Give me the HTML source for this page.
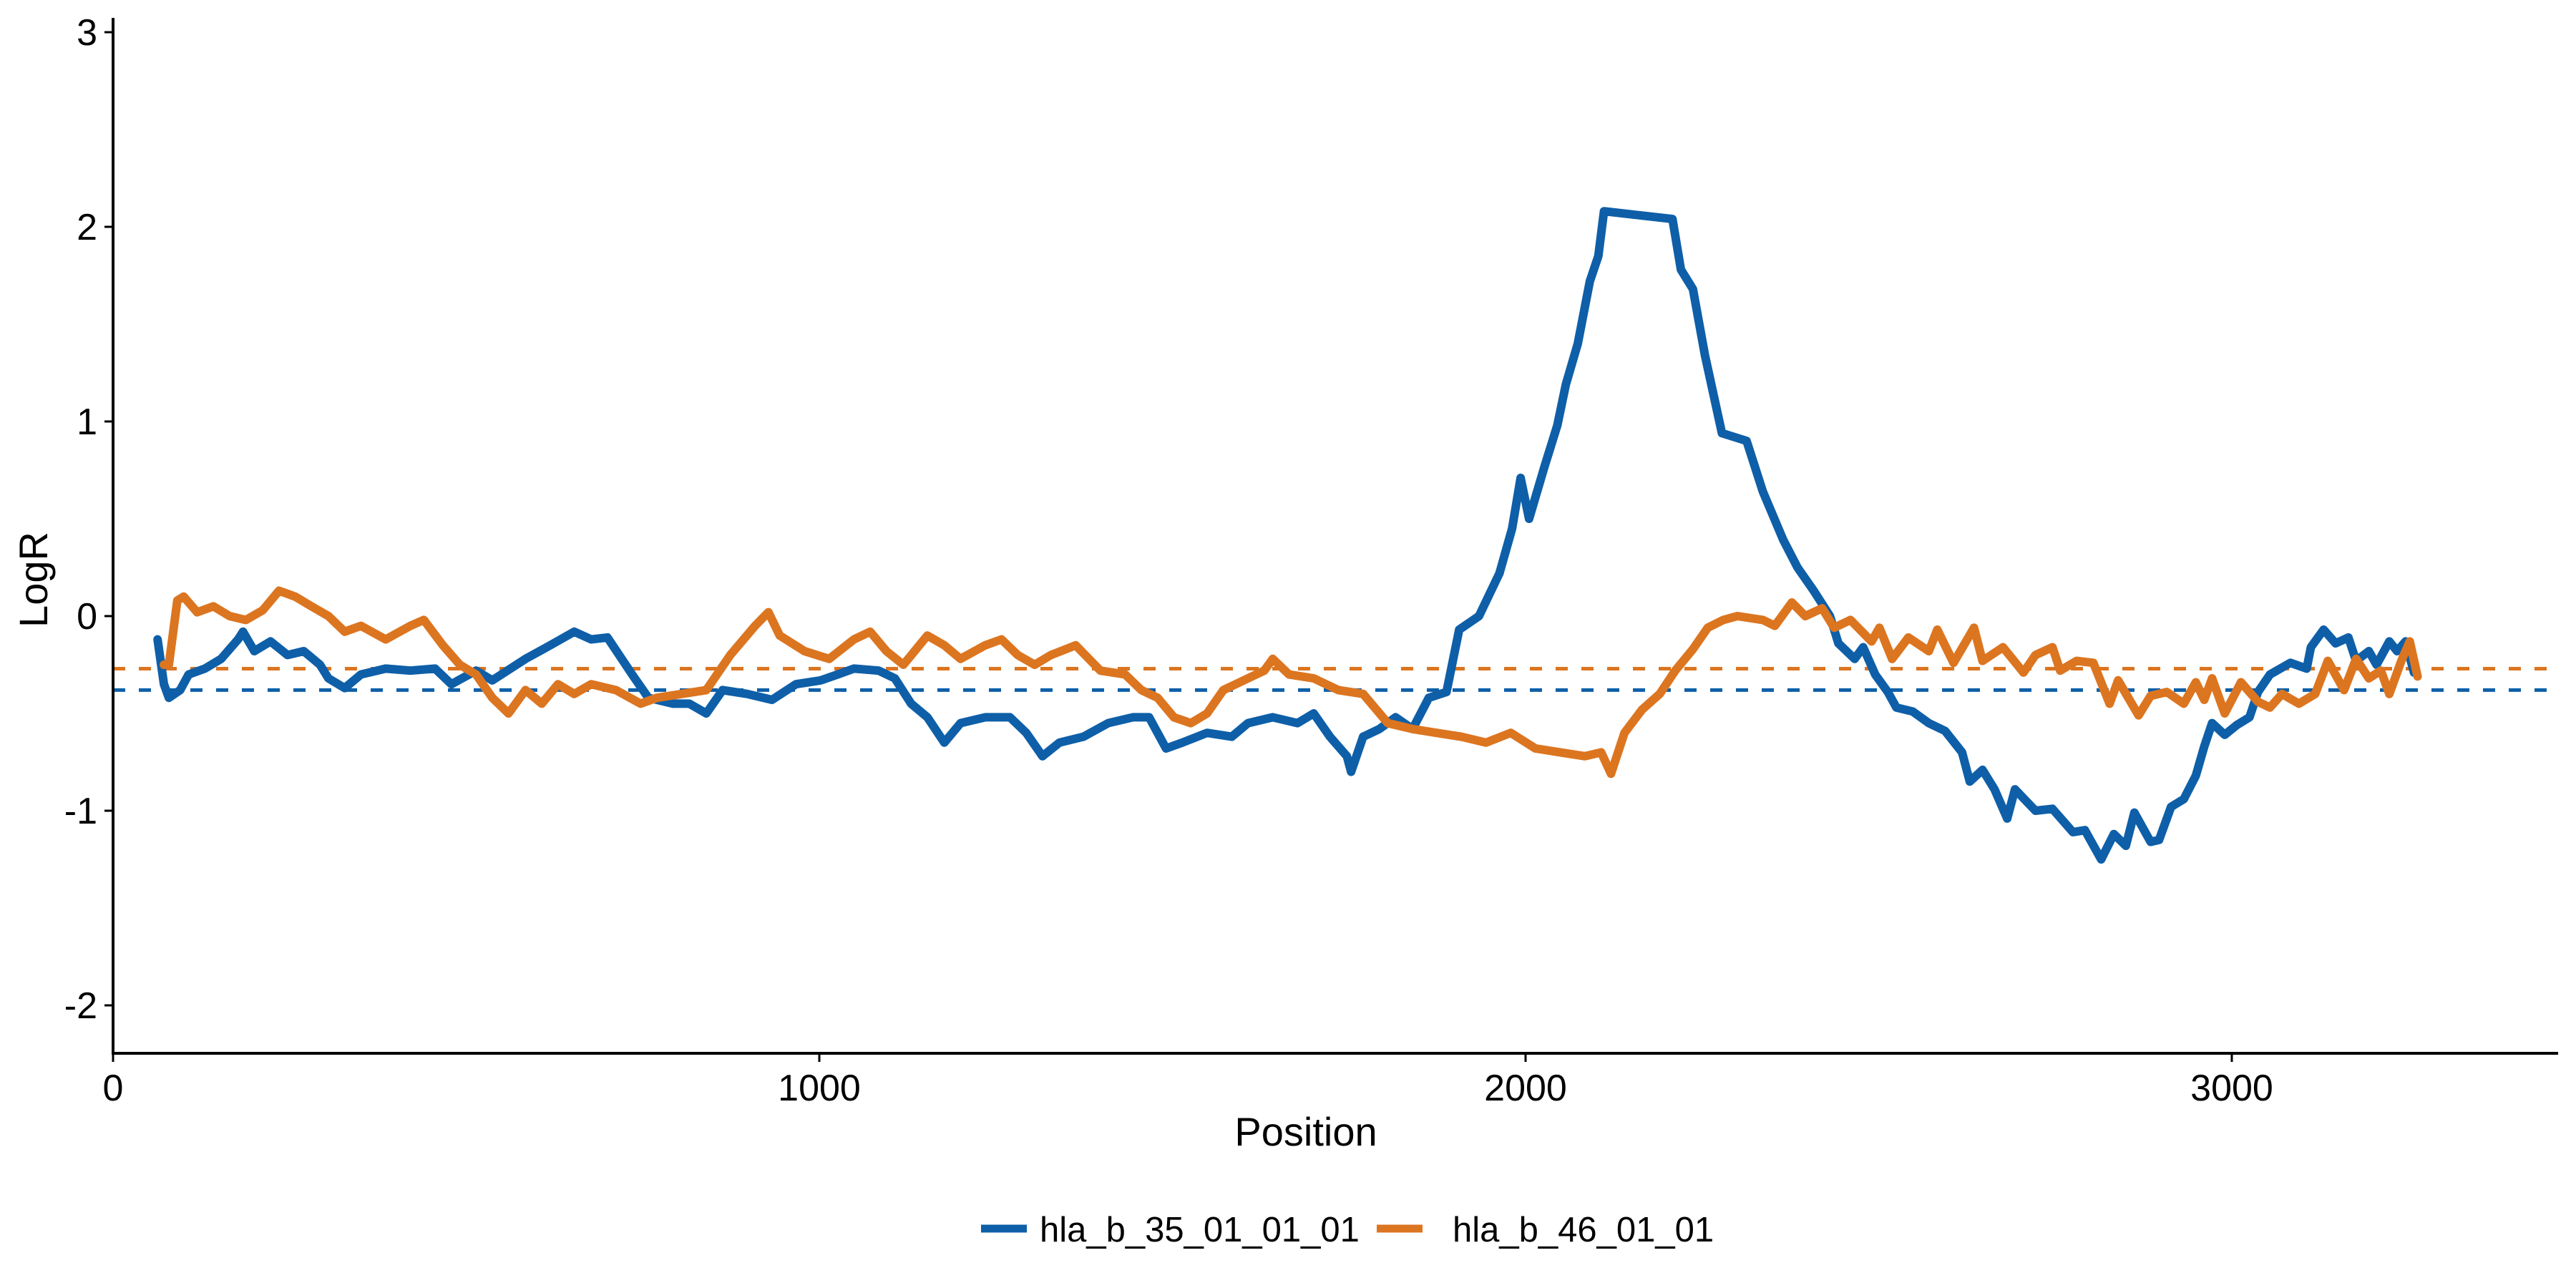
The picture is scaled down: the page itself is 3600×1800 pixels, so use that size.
<!DOCTYPE html>
<html><head><meta charset="utf-8"><style>
html,body{margin:0;padding:0;background:#fff;}
svg{display:block;font-family:"Liberation Sans",Arial,sans-serif;}
</style></head><body>
<svg id="chart" width="3600" height="1800" viewBox="0 0 3600 1800">
<g id="grid"></g>
<g id="series"></g>
<g id="axes"></g>
<text x="1825" y="1601" font-size="56" text-anchor="middle">Position</text>
<text transform="translate(66,810) rotate(-90)" font-size="56" text-anchor="middle">LogR</text>
<g>
<line x1="1371" y1="1717" x2="1435" y2="1717" stroke="#0e5fa8" stroke-width="11"/>
<text x="1453" y="1735" font-size="49">hla_b_35_01_01_01</text>
<line x1="1924" y1="1717" x2="1988" y2="1717" stroke="#dc7520" stroke-width="11"/>
<text x="2030" y="1735" font-size="49">hla_b_46_01_01</text>
</g>
</svg>
<script>
const blueX=[63,72,79,95,107,130,153,177,184,200,223,247,270,293,305,328,351,386,421,456,479,514,537,584,619,653,677,700,735,758,793,816,840,863,898,933,967,1002,1026,1049,1084,1107,1130,1153,1177,1200,1235,1270,1293,1316,1340,1374,1409,1444,1467,1491,1514,1549,1584,1607,1642,1677,1700,1723,1747,1753,1770,1793,1816,1840,1863,1888,1906,1934,1963,1981,1993,2005,2027,2045,2057,2074,2091,2103,2111,2208,2220,2237,2254,2278,2313,2336,2365,2385,2408,2431,2443,2466,2478,2495,2513,2525,2548,2571,2594,2618,2629,2647,2664,2682,2693,2722,2746,2775,2792,2815,2833,2850,2862,2885,2897,2914,2932,2949,2961,2972,2990,3007,3025,3037,3054,3083,3106,3112,3130,3147,3165,3176,3194,3205,3223,3234,3246,3258];
const blueY=[-0.12,-0.35,-0.42,-0.38,-0.30,-0.27,-0.22,-0.12,-0.08,-0.18,-0.13,-0.2,-0.18,-0.25,-0.32,-0.37,-0.30,-0.27,-0.28,-0.27,-0.35,-0.28,-0.33,-0.22,-0.15,-0.08,-0.12,-0.11,-0.3,-0.42,-0.45,-0.45,-0.5,-0.38,-0.40,-0.43,-0.35,-0.33,-0.30,-0.27,-0.28,-0.32,-0.45,-0.52,-0.65,-0.55,-0.52,-0.52,-0.6,-0.72,-0.65,-0.62,-0.55,-0.52,-0.52,-0.68,-0.65,-0.60,-0.62,-0.55,-0.52,-0.55,-0.50,-0.62,-0.72,-0.80,-0.62,-0.58,-0.52,-0.58,-0.42,-0.39,-0.07,0.0,0.22,0.45,0.71,0.50,0.77,0.98,1.19,1.40,1.72,1.85,2.08,2.04,1.78,1.68,1.34,0.94,0.90,0.64,0.39,0.25,0.13,0.0,-0.14,-0.22,-0.16,-0.30,-0.39,-0.47,-0.49,-0.55,-0.59,-0.70,-0.85,-0.79,-0.89,-1.04,-0.89,-1.00,-0.99,-1.11,-1.10,-1.25,-1.12,-1.18,-1.01,-1.16,-1.15,-0.98,-0.94,-0.82,-0.67,-0.55,-0.61,-0.56,-0.52,-0.39,-0.30,-0.24,-0.27,-0.16,-0.07,-0.14,-0.11,-0.23,-0.18,-0.25,-0.13,-0.18,-0.13,-0.29];
const orangeX=[72,79,91,100,119,142,165,188,212,235,258,281,305,328,351,386,421,440,467,491,514,537,560,584,607,630,653,677,712,747,770,805,840,874,909,928,944,979,1014,1049,1072,1095,1119,1153,1177,1200,1235,1258,1281,1305,1328,1363,1398,1433,1456,1479,1502,1526,1549,1572,1607,1630,1642,1665,1700,1735,1770,1805,1840,1874,1909,1944,1979,2014,2049,2084,2107,2121,2140,2165,2190,2212,2237,2258,2280,2300,2336,2353,2377,2396,2420,2437,2460,2490,2501,2519,2542,2571,2583,2606,2635,2647,2676,2705,2722,2746,2757,2780,2804,2827,2839,2868,2885,2908,2932,2949,2961,2972,2990,3013,3037,3054,3071,3095,3118,3136,3159,3176,3194,3211,3223,3240,3252,3263];
const orangeY=[-0.25,-0.25,0.08,0.1,0.02,0.05,0.0,-0.02,0.03,0.13,0.1,0.05,0.0,-0.08,-0.05,-0.12,-0.05,-0.02,-0.15,-0.25,-0.3,-0.42,-0.5,-0.38,-0.45,-0.35,-0.40,-0.35,-0.38,-0.45,-0.42,-0.40,-0.38,-0.20,-0.05,0.02,-0.10,-0.18,-0.22,-0.12,-0.08,-0.18,-0.25,-0.10,-0.15,-0.22,-0.15,-0.12,-0.20,-0.25,-0.20,-0.15,-0.28,-0.30,-0.38,-0.42,-0.52,-0.55,-0.50,-0.38,-0.32,-0.28,-0.22,-0.30,-0.32,-0.38,-0.40,-0.55,-0.58,-0.60,-0.62,-0.65,-0.60,-0.68,-0.70,-0.72,-0.70,-0.81,-0.60,-0.48,-0.40,-0.28,-0.17,-0.06,-0.02,0.0,-0.02,-0.05,0.07,0.0,0.04,-0.06,-0.02,-0.13,-0.06,-0.22,-0.11,-0.18,-0.07,-0.24,-0.06,-0.23,-0.16,-0.29,-0.20,-0.16,-0.28,-0.23,-0.24,-0.45,-0.33,-0.51,-0.41,-0.39,-0.45,-0.34,-0.43,-0.32,-0.50,-0.34,-0.44,-0.47,-0.40,-0.45,-0.40,-0.23,-0.38,-0.22,-0.32,-0.28,-0.40,-0.23,-0.13,-0.31];
const refLevels=[-0.38,-0.27];
const xTicks=[0,1000,2000,3000];
const yTicks=[-2,-1,0,1,2,3];

const NS='http://www.w3.org/2000/svg';
const X0=158, XR=3575, YB=1472;
function sx(v){return X0+v*0.987;}
function sy(v){return 861-v*272;}
function mk(tag,attrs,parent){const e=document.createElementNS(NS,tag);for(const k in attrs)e.setAttribute(k,attrs[k]);parent.appendChild(e);return e;}

const grid=document.getElementById('grid');
const refColors=['#0e5fa8','#dc7520'];
refLevels.forEach((v,i)=>{
  const l=mk('line',{x1:X0,x2:XR,y1:sy(v),y2:sy(v),stroke:refColors[i],'stroke-width':5,'stroke-dasharray':'17 19'},grid);
  
  
});

const ser=document.getElementById('series');
function drawLine(xs,ys,color,name){
  const d=xs.map((x,i)=>(i?'L':'M')+sx(x).toFixed(1)+' '+sy(ys[i]).toFixed(1)).join(' ');
  const p=mk('path',{d:d,fill:'none',stroke:color,'stroke-width':12,'stroke-linejoin':'round','stroke-linecap':'round'},ser);
  
  
}
drawLine(blueX,blueY,'#0e5fa8','series-hla-b-35');
drawLine(orangeX,orangeY,'#dc7520','series-hla-b-46');

const ax=document.getElementById('axes');
const xa=mk('line',{x1:X0,x2:XR,y1:YB,y2:YB,stroke:'#000','stroke-width':4},ax);


const ya=mk('line',{x1:X0,x2:X0,y1:25,y2:YB+2,stroke:'#000','stroke-width':4},ax);


xTicks.forEach(v=>{
  const t=mk('line',{x1:sx(v),x2:sx(v),y1:YB,y2:YB+12,stroke:'#000','stroke-width':3},ax);
  
  
  const tx=mk('text',{x:sx(v),y:YB+66,'font-size':52,'text-anchor':'middle'},ax);
  tx.textContent=v;
  
  
});
yTicks.forEach(v=>{
  const t=mk('line',{x1:X0-12,x2:X0,y1:sy(v),y2:sy(v),stroke:'#000','stroke-width':3},ax);
  
  
  const tx=mk('text',{x:X0-22,y:sy(v)+18,'font-size':52,'text-anchor':'end'},ax);
  tx.textContent=v;
  
  
});
</script>
</body></html>
